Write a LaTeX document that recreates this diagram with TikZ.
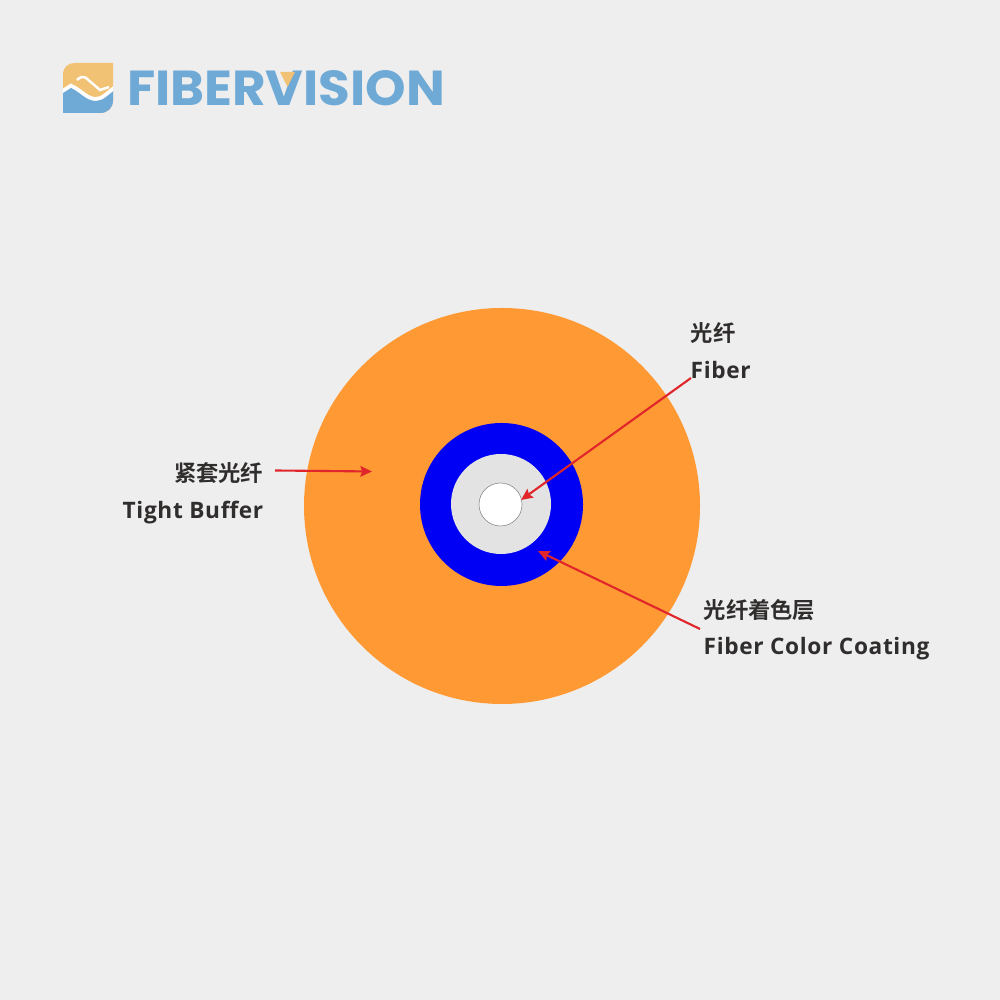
\documentclass[tikz,border=0pt]{standalone}
\usepackage{fontspec}
\setmainfont{Open Sans}[LetterSpace=2.8]
\newfontfamily\cjkfont{Noto Sans CJK SC}[BoldFont={Noto Sans CJK SC Bold}]
\newfontfamily\wordfont{Poppins}
\usetikzlibrary{arrows.meta}
\definecolor{pagegray}{HTML}{EEEEEE}
\definecolor{bufferorange}{HTML}{FF9933}
\definecolor{coatblue}{HTML}{0000F5}
\definecolor{coregray}{HTML}{E3E3E3}
\definecolor{arrowred}{HTML}{E0262B}
\definecolor{inkgray}{HTML}{302D2D}
\definecolor{logoblue}{HTML}{6FAAD6}
\definecolor{logosand}{HTML}{F2C274}
\tikzset{
  ring/.style={circle,inner sep=0pt,draw=none},
  labeltext/.style={inner sep=0pt,text=inkgray,font=\fontsize{6.45pt}{7pt}\selectfont\bfseries},
  cjktext/.style={inner sep=0pt,text=inkgray,font=\fontsize{6.35pt}{7pt}\cjkfont\bfseries},
  pointer/.style={draw=arrowred,line width=0.6pt,-{Stealth[length=3.3pt,width=3pt,inset=0.5pt]}}
}
\begin{document}
\begin{tikzpicture}
  \useasboundingbox (0,0) rectangle (10,10);
  \fill[pagegray] (0,0) rectangle (10,10);
  % logo
  \begin{scope}
    \clip (0.63,8.87) -- (0.63,9.25) .. controls (0.63,9.33) and (0.68,9.37) .. (0.75,9.37)
      -- (1.13,9.37) -- (1.13,9.00) .. controls (1.13,8.92) and (1.08,8.87) .. (1.00,8.87) -- cycle;
    \fill[logosand] (0.6,8.8) rectangle (1.2,9.4);
    \draw[white,line width=2.2pt] (0.60,9.05) .. controls (0.65,9.08) .. (0.71,9.12)
      .. controls (0.80,9.08) and (0.86,8.99) .. (0.96,8.99)
      .. controls (1.03,8.99) and (1.08,9.05) .. (1.16,9.11);
    \fill[logoblue] (0.60,9.05) .. controls (0.65,9.08) .. (0.71,9.12)
      .. controls (0.80,9.08) and (0.86,8.99) .. (0.96,8.99)
      .. controls (1.03,8.99) and (1.08,9.05) .. (1.16,9.11) -- (1.16,8.8) -- (0.60,8.8) -- cycle;
    \draw[white,line width=0.7pt] (0.77,9.20) .. controls (0.80,9.23) and (0.83,9.24) .. (0.86,9.22)
      -- (1.00,9.10) -- (1.09,9.13);
  \end{scope}
  \node[inner sep=0pt,text=logoblue,font=\fontsize{11pt}{12pt}\wordfont\bfseries] (brand) at (2.86,9.12)
    {\resizebox{3.18cm}{0.35cm}{FIBERVISION}};
  \fill[logosand] (2.80,9.28) -- (2.95,9.28) -- (2.875,9.13) -- cycle;
  % cable rings
  \node[ring,fill=bufferorange,minimum size=3.96cm] (buffer) at (5.02,4.94) {};
  \node[ring,fill=coatblue,minimum size=1.63cm] (coating) at (5.015,4.955) {};
  \node[ring,fill=coregray,minimum size=1cm] (core) at (5.01,4.96) {};
  \node[circle,inner sep=0pt,draw=gray,line width=0.15pt,fill=white,minimum size=0.43cm] (fiber) at (5.005,4.955) {};
  % labels
  \node[cjktext,anchor=east] (bufferzh) at (2.64,5.27) {紧套光纤};
  \node[labeltext,anchor=base east] (bufferen) at (2.64,4.81) {Tight Buffer};
  \node[cjktext,anchor=west] (fiberzh) at (6.90,6.67) {光纤};
  \node[labeltext,anchor=base west] (fiberen) at (6.90,6.21) {Fiber};
  \node[cjktext,anchor=west] (coatzh) at (7.03,3.90) {光纤着色层};
  \node[labeltext,anchor=base west] (coaten) at (7.03,3.45) {Fiber Color Coating};
  % pointers
  \coordinate (bufferfrom) at (2.75,5.295);
  \coordinate (bufferto) at (3.72,5.285);
  \coordinate (fiberfrom) at (6.91,6.22);
  \coordinate (fiberto) at (5.21,5.00);
  \coordinate (coatfrom) at (7.00,3.71);
  \coordinate (coatto) at (5.38,4.49);
  \draw[pointer] (bufferfrom) -- (bufferto);
  \draw[pointer] (fiberfrom) -- (fiberto);
  \draw[pointer] (coatfrom) -- (coatto);
\end{tikzpicture}
\end{document}
